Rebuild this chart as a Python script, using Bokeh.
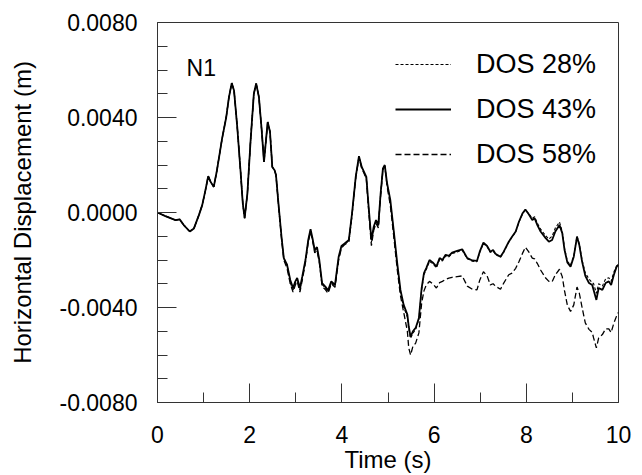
from bokeh.plotting import figure
from bokeh.models import Range1d, FixedTicker, NumeralTickFormatter, Legend, LegendItem, Label
from bokeh.embed import file_html
from bokeh.resources import INLINE

time_s = [
    0.00, 0.17, 0.39, 0.48, 0.57, 0.70, 0.79, 0.90, 0.97, 1.04,
    1.10, 1.15, 1.22, 1.29, 1.40, 1.49, 1.55, 1.61, 1.66, 1.73,
    1.80, 1.85, 1.89, 1.95, 2.02, 2.09, 2.14, 2.20, 2.26, 2.31,
    2.34, 2.39, 2.44, 2.49, 2.54, 2.57, 2.63, 2.69, 2.74, 2.81,
    2.88, 2.94, 2.99, 3.03, 3.09, 3.14, 3.21, 3.27, 3.32, 3.37,
    3.41, 3.46, 3.51, 3.57, 3.64, 3.70, 3.77, 3.85, 3.93, 3.99,
    4.06, 4.15, 4.22, 4.30, 4.37, 4.43, 4.48, 4.53, 4.58, 4.64,
    4.69, 4.74, 4.79, 4.84, 4.89, 4.93, 4.98, 5.05, 5.13, 5.20,
    5.27, 5.34, 5.42, 5.45, 5.49, 5.54, 5.60, 5.67, 5.73, 5.78,
    5.83, 5.90, 5.97, 6.05, 6.12, 6.18, 6.25, 6.32, 6.39, 6.50,
    6.61, 6.72, 6.83, 6.93, 6.99, 7.07, 7.15, 7.22, 7.28, 7.33,
    7.44, 7.51, 7.62, 7.69, 7.77, 7.84, 7.92, 7.98, 8.05, 8.13,
    8.18, 8.24, 8.31, 8.42, 8.49, 8.56, 8.63, 8.72, 8.78, 8.83,
    8.89, 8.96, 9.03, 9.10, 9.15, 9.21, 9.28, 9.36, 9.43, 9.46,
    9.52, 9.57, 9.65, 9.72, 9.79, 9.84, 9.90, 9.96, 10.00,
]

dos28 = [
    0.0, -0.00015, -0.00032, -0.00029, -0.00053, -0.00080, -0.00067, -0.00010, 0.00031, 0.00094,
    0.00153, 0.00130, 0.00108, 0.00178, 0.00310, 0.00400, 0.00486, 0.00545, 0.00514, 0.00360,
    0.00178, 0.00039, -0.00024, 0.00080, 0.00305, 0.00500, 0.00543, 0.00486, 0.00347, 0.00213,
    0.00276, 0.00381, 0.00340, 0.00192, 0.00178, 0.00158, 0.00024, -0.00102, -0.00192, -0.00220,
    -0.00295, -0.00330, -0.00296, -0.00282, -0.00328, -0.00276, -0.00204, -0.00120, -0.00074, -0.00120,
    -0.00162, -0.00150, -0.00205, -0.00303, -0.00318, -0.00335, -0.00295, -0.00310, -0.00192, -0.00145,
    -0.00133, -0.00120, -0.00008, 0.00148, 0.00235, 0.00190, 0.00168, 0.00146, 0.00018, -0.00125,
    -0.00066, -0.00038, -0.00058, 0.00076, 0.00183, 0.00198, 0.00118, 0.00045, -0.00095, -0.00222,
    -0.00335, -0.00398, -0.00440, -0.00490, -0.00530, -0.00508, -0.00492, -0.00450, -0.00325, -0.00262,
    -0.00240, -0.00206, -0.00215, -0.00232, -0.00197, -0.00204, -0.00183, -0.00187, -0.00173, -0.00166,
    -0.00159, -0.00195, -0.00205, -0.00207, -0.00168, -0.00130, -0.00144, -0.00168, -0.00161, -0.00177,
    -0.00188, -0.00167, -0.00125, -0.00104, -0.00082, -0.00041, -0.00005, 0.00011, -0.00004, -0.00025,
    -0.00018, -0.00045, -0.00070, -0.00098, -0.00112, -0.00100, -0.00065, -0.00040, -0.00080, -0.00150,
    -0.00205, -0.00222, -0.00182, -0.00100, -0.00132, -0.00200, -0.00255, -0.00280, -0.00295, -0.00300,
    -0.00340, -0.00300, -0.00310, -0.00280, -0.00275, -0.00290, -0.00250, -0.00225, -0.00215,
]

dos43 = [
    0.0, -0.00015, -0.00032, -0.00029, -0.00053, -0.00080, -0.00067, -0.00010, 0.00031, 0.00094,
    0.00153, 0.00130, 0.00108, 0.00178, 0.00310, 0.00400, 0.00486, 0.00545, 0.00514, 0.00360,
    0.00178, 0.00039, -0.00024, 0.00080, 0.00305, 0.00500, 0.00543, 0.00486, 0.00347, 0.00213,
    0.00276, 0.00381, 0.00340, 0.00192, 0.00178, 0.00158, 0.00024, -0.00102, -0.00192, -0.00220,
    -0.00284, -0.00318, -0.00290, -0.00276, -0.00318, -0.00270, -0.00200, -0.00116, -0.00070, -0.00116,
    -0.00158, -0.00146, -0.00200, -0.00297, -0.00312, -0.00328, -0.00290, -0.00305, -0.00186, -0.00141,
    -0.00130, -0.00116, -0.00004, 0.00150, 0.00237, 0.00192, 0.00171, 0.00150, 0.00024, -0.00116,
    -0.00060, -0.00032, -0.00053, 0.00080, 0.00186, 0.00200, 0.00123, 0.00053, -0.00087, -0.00213,
    -0.00326, -0.00389, -0.00430, -0.00480, -0.00524, -0.00500, -0.00486, -0.00444, -0.00318, -0.00255,
    -0.00234, -0.00200, -0.00210, -0.00228, -0.00192, -0.00200, -0.00178, -0.00183, -0.00169, -0.00162,
    -0.00155, -0.00192, -0.00202, -0.00204, -0.00165, -0.00127, -0.00141, -0.00165, -0.00158, -0.00174,
    -0.00186, -0.00165, -0.00123, -0.00102, -0.00080, -0.00039, -0.00003, 0.00013, -0.00006, -0.00032,
    -0.00024, -0.00053, -0.00080, -0.00108, -0.00123, -0.00116, -0.00080, -0.00053, -0.00087, -0.00158,
    -0.00210, -0.00228, -0.00186, -0.00102, -0.00137, -0.00207, -0.00267, -0.00297, -0.00305, -0.00326,
    -0.00368, -0.00318, -0.00326, -0.00297, -0.00290, -0.00305, -0.00262, -0.00228, -0.00220,
]

dos58 = [
    0.0, -0.00015, -0.00032, -0.00029, -0.00053, -0.00080, -0.00067, -0.00010, 0.00031, 0.00094,
    0.00153, 0.00130, 0.00108, 0.00178, 0.00310, 0.00400, 0.00486, 0.00545, 0.00514, 0.00360,
    0.00178, 0.00039, -0.00024, 0.00080, 0.00305, 0.00500, 0.00543, 0.00486, 0.00347, 0.00213,
    0.00276, 0.00381, 0.00340, 0.00192, 0.00178, 0.00158, 0.00020, -0.00110, -0.00200, -0.00235,
    -0.00300, -0.00335, -0.00305, -0.00290, -0.00335, -0.00285, -0.00210, -0.00125, -0.00080, -0.00125,
    -0.00170, -0.00160, -0.00210, -0.00310, -0.00325, -0.00340, -0.00300, -0.00315, -0.00200, -0.00150,
    -0.00135, -0.00125, -0.00010, 0.00145, 0.00232, 0.00185, 0.00165, 0.00140, 0.00010, -0.00140,
    -0.00075, -0.00045, -0.00065, 0.00070, 0.00180, 0.00195, 0.00110, 0.00030, -0.00110, -0.00240,
    -0.00350, -0.00420, -0.00500, -0.00570, -0.00600, -0.00564, -0.00550, -0.00507, -0.00381, -0.00330,
    -0.00305, -0.00290, -0.00300, -0.00318, -0.00295, -0.00290, -0.00282, -0.00276, -0.00273, -0.00270,
    -0.00267, -0.00310, -0.00323, -0.00326, -0.00285, -0.00249, -0.00267, -0.00305, -0.00300, -0.00310,
    -0.00323, -0.00297, -0.00262, -0.00255, -0.00235, -0.00207, -0.00171, -0.00146, -0.00165, -0.00192,
    -0.00195, -0.00215, -0.00242, -0.00276, -0.00290, -0.00292, -0.00262, -0.00239, -0.00270, -0.00330,
    -0.00390, -0.00417, -0.00389, -0.00314, -0.00340, -0.00400, -0.00465, -0.00492, -0.00505, -0.00528,
    -0.00570, -0.00528, -0.00514, -0.00490, -0.00490, -0.00505, -0.00465, -0.00435, -0.00420,
]

series_labels = ["DOS 28%", "DOS 43%", "DOS 58%"]
x_major = [0, 2, 4, 6, 8, 10]
x_minor = [1, 3, 5, 7, 9]
y_major = [-0.008, -0.004, 0.0, 0.004, 0.008]
y_minor = [-0.007, -0.006, -0.005, -0.003, -0.002, -0.001, 0.001, 0.002, 0.003, 0.005, 0.006, 0.007]

FONT = "Liberation Sans"
AX = "#333333"

p = figure(width=642, height=475, output_backend="svg", toolbar_location=None,
           x_range=Range1d(0, 10), y_range=Range1d(-0.008, 0.008),
           min_border_left=157, min_border_right=24, min_border_top=22, min_border_bottom=72)
p.background_fill_color = "white"
p.border_fill_color = "white"
p.outline_line_color = AX
p.outline_line_width = 1
p.xgrid.visible = False
p.ygrid.visible = False

for ax in (p.xaxis[0], p.yaxis[0]):
    ax.axis_line_color = AX
    ax.major_tick_line_color = AX
    ax.minor_tick_line_color = AX
    ax.major_tick_in = 19
    ax.major_tick_out = 0
    ax.minor_tick_in = 10
    ax.minor_tick_out = 0
    ax.major_label_text_font = FONT
    ax.major_label_text_font_size = "23px"
    ax.major_label_text_color = "black"
    ax.axis_label_text_font = FONT
    ax.axis_label_text_font_size = "24px"
    ax.axis_label_text_font_style = "normal"
    ax.axis_label_text_color = "black"

p.xaxis[0].ticker = FixedTicker(ticks=x_major, minor_ticks=x_minor)
p.yaxis[0].ticker = FixedTicker(ticks=y_major, minor_ticks=y_minor)
p.xaxis[0].formatter = NumeralTickFormatter(format="0")
p.yaxis[0].formatter = NumeralTickFormatter(format="0.0000")
p.xaxis[0].axis_label = "Time (s)"
p.yaxis[0].axis_label = "Horizontal Displacement (m)"
p.xaxis[0].major_label_standoff = 23
p.xaxis[0].axis_label_standoff = 0
p.yaxis[0].major_label_standoff = 20
p.yaxis[0].axis_label_standoff = 20

r58 = p.line(time_s, dos58, line_color="black", line_width=1.3, line_dash="6 3")
r28 = p.line(time_s, dos28, line_color="black", line_width=1.1, line_dash="3 2")
r43 = p.line(time_s, dos43, line_color="black", line_width=1.8)

legend = Legend(items=[LegendItem(label=series_labels[0], renderers=[r28]),
                       LegendItem(label=series_labels[1], renderers=[r43]),
                       LegendItem(label=series_labels[2], renderers=[r58])],
                location=(238, 232), orientation="vertical",
                glyph_width=56, glyph_height=32, label_height=32, spacing=13,
                label_standoff=25, padding=0, margin=0,
                background_fill_alpha=0, border_line_alpha=0,
                label_text_font=FONT, label_text_font_size="27px", label_text_color="black")
p.add_layout(legend)

p.add_layout(Label(x=0.63, y=0.00609, text="N1", text_font=FONT, text_font_size="23px",
                   text_color="black", text_baseline="alphabetic"))

open("out.html", "w").write(file_html(p, INLINE))
